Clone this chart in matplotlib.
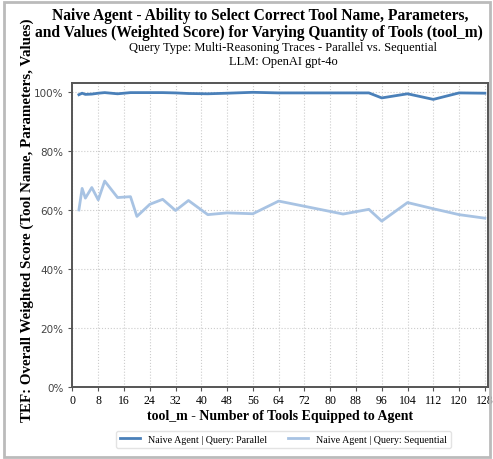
import matplotlib
matplotlib.use("Agg")
import matplotlib.pyplot as plt
from matplotlib.ticker import PercentFormatter, MultipleLocator
from matplotlib.patches import Rectangle

tool_m = [2, 3, 4, 6, 8, 10, 14, 18, 20, 24, 28, 32, 36, 42, 48, 56, 64, 84, 92, 96, 104, 112, 120, 128]
parallel = [99.1, 99.6, 99.2, 99.3, 99.6, 99.8, 99.4, 99.8, 99.8, 99.8, 99.8, 99.7, 99.5, 99.4,
            99.6, 99.9, 99.7, 99.7, 99.7, 98.0, 99.4, 97.5, 99.7, 99.6]
sequential = [60.0, 67.3, 64.0, 67.6, 63.4, 69.8, 64.2, 64.5, 57.8, 61.9, 63.6, 59.8, 63.2, 58.4,
              59.0, 58.7, 63.0, 58.6, 60.2, 56.2, 62.5, 60.4, 58.4, 57.2]
labels = ["Naive Agent | Query: Parallel", "Naive Agent | Query: Sequential"]
xticks = list(range(0, 129, 8))

serif = ["Liberation Serif", "DejaVu Serif"]

fig = plt.figure(figsize=(4.93, 4.60), dpi=100)
ax = fig.add_axes([0.147, 0.157, 0.843, 0.66])

ax.plot(tool_m, parallel, color="#4a80b9", lw=2.0, label=labels[0])
ax.plot(tool_m, sequential, color="#a8c3e3", lw=2.0, label=labels[1])

ax.set_xlim(0, 129)
ax.set_ylim(0, 103)
ax.set_xticks(xticks)
ax.yaxis.set_major_locator(MultipleLocator(20))
ax.yaxis.set_major_formatter(PercentFormatter(decimals=0))
ax.grid(True, color="#cccccc", linestyle=":", linewidth=0.8)
for s in ax.spines.values():
    s.set_color("#555555")
    s.set_linewidth(1.4)
ax.tick_params(axis="y", labelsize=7.5, labelcolor="#444444", length=3, color="#555555")
ax.tick_params(axis="x", labelsize=8.5, length=3, color="#555555", pad=2)
for t in ax.get_xticklabels():
    t.set_family(serif)

ax.set_xlabel("tool_m - Number of Tools Equipped to Agent", family=serif,
              fontweight="bold", fontsize=10, labelpad=2)
fig.text(0.055, 0.522, "TEF: Overall Weighted Score (Tool Name, Parameters, Values)",
         rotation=90, family=serif, fontweight="bold", fontsize=10.8,
         ha="center", va="center")

fig.text(0.527, 0.965, "Naive Agent - Ability to Select Correct Tool Name, Parameters,",
         family=serif, fontweight="bold", fontsize=11.2, ha="center", va="center")
fig.text(0.526, 0.928, "and Values (Weighted Score) for Varying Quantity of Tools (tool_m)",
         family=serif, fontweight="bold", fontsize=11.2, ha="center", va="center")
fig.text(0.575, 0.895, "Query Type: Multi-Reasoning Traces - Parallel vs. Sequential",
         family=serif, fontsize=9, ha="center", va="center")
fig.text(0.575, 0.866, "LLM: OpenAI gpt-4o",
         family=serif, fontsize=9, ha="center", va="center")

fig.legend(loc="center", bbox_to_anchor=(0.575, 0.043), ncol=2,
           prop={"family": serif, "size": 7.2}, frameon=True,
           edgecolor="#dddddd", handlelength=2.0, columnspacing=2.0)

fig.patches.append(Rectangle((0.008, 0.005), 0.986, 0.988, transform=fig.transFigure,
                             fill=False, edgecolor="#bbbbbb", linewidth=2))

fig.savefig("out.png", dpi=100)
